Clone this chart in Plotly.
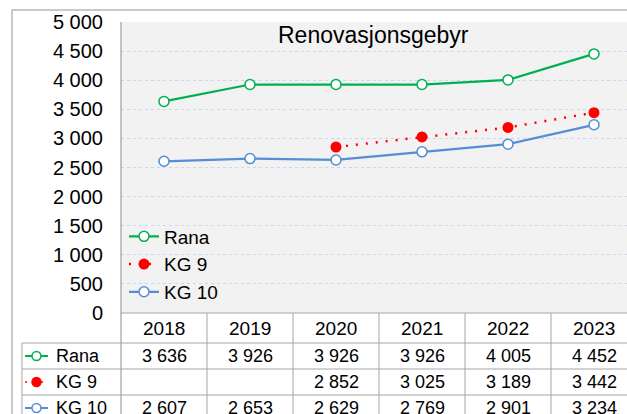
import plotly.graph_objects as go

years = ["2018", "2019", "2020", "2021", "2022", "2023"]
rana = [3636, 3926, 3926, 3926, 4005, 4452]
kg9 = [None, None, 2852, 3025, 3189, 3442]
kg10 = [2607, 2653, 2629, 2769, 2901, 3234]
series_names = ["Rana", "KG 9", "KG 10"]
y_ticks = [0, 500, 1000, 1500, 2000, 2500, 3000, 3500, 4000, 4500, 5000]
title_text = "Renovasjonsgebyr"

W, H = 627, 414
FONT = "Liberation Sans, Arial, sans-serif"
GREEN = "#00b050"
RED = "#ff0000"
BLUE = "#558ed5"
GRID = "#c9d7ee"
TBL = "#a6a6a6"

def px(x):
    return x / W

def py(y):
    return 1 - y / H

plot_left, plot_top, plot_bottom = 121, 22, 313
cat_w = 86
x_end = -0.5 + (W - plot_left) / cat_w

def fmt(v):
    return f"{v:,}".replace(",", " ")

fig = go.Figure()
styles = [
    dict(line=dict(color=GREEN, width=2.25), marker=dict(symbol="circle", size=10, color="white", line=dict(color=GREEN, width=1.5))),
    dict(line=dict(color=RED, width=2.5, dash="2px,8px"), marker=dict(symbol="circle", size=11, color=RED, line=dict(color=RED, width=0))),
    dict(line=dict(color=BLUE, width=2.25), marker=dict(symbol="circle", size=10, color="white", line=dict(color=BLUE, width=1.5))),
]
for name, vals, st in zip(series_names, [rana, kg9, kg10], styles):
    fig.add_trace(go.Scatter(x=list(range(len(years))), y=vals, name=name, mode="lines+markers",
                             legendgroup=name, connectgaps=False, **st))

shapes = []
annotations = []
# outer border
shapes.append(dict(type="rect", xref="paper", yref="paper", x0=px(12), x1=px(W + 10), y0=py(H + 10), y1=py(10),
                   line=dict(color="#b8b8b8", width=1.5), layer="below"))
# y axis line extended through table
shapes.append(dict(type="line", xref="paper", yref="paper", x0=px(plot_left), x1=px(plot_left), y0=py(plot_top), y1=py(H),
                   line=dict(color="#8c8c8c", width=1)))
# table horizontal lines
shapes.append(dict(type="line", xref="paper", yref="paper", x0=px(plot_left), x1=1, y0=py(313), y1=py(313),
                   line=dict(color=TBL, width=1)))
for yy in [343, 369, 395]:
    shapes.append(dict(type="line", xref="paper", yref="paper", x0=px(22), x1=1, y0=py(yy), y1=py(yy),
                       line=dict(color=TBL, width=1)))
shapes.append(dict(type="line", xref="paper", yref="paper", x0=px(22), x1=px(22), y0=py(343), y1=py(H),
                   line=dict(color=TBL, width=1)))
for i in range(1, len(years)):
    shapes.append(dict(type="line", xref="x", yref="paper", x0=i - 0.5, x1=i - 0.5, y0=py(313), y1=py(H),
                       line=dict(color=TBL, width=1)))

# header row
for i, yr in enumerate(years):
    annotations.append(dict(x=i, xref="x", y=py(328), yref="paper", text=yr, showarrow=False,
                            xanchor="center", yanchor="middle", font=dict(size=19, color="black", family=FONT)))
row_ys = [356, 382, 408]
for (name, vals, st, ry) in zip(series_names, [rana, kg9, kg10], styles, row_ys):
    for i, v in enumerate(vals):
        if v is not None:
            annotations.append(dict(x=i, xref="x", y=py(ry), yref="paper", text=fmt(v), showarrow=False,
                                    xanchor="center", yanchor="middle", font=dict(size=18, color="black", family=FONT)))
    annotations.append(dict(x=px(54), xref="paper", y=py(ry), yref="paper", text=name, showarrow=False,
                            xanchor="left", yanchor="middle", font=dict(size=18, color="black", family=FONT)))
    lc = st["line"]["color"]
    dash = st["line"].get("dash", "solid")
    shapes.append(dict(type="line", xref="paper", yref="paper", x0=px(25), x1=px(48), y0=py(ry), y1=py(ry),
                       line=dict(color=lc, width=2 if dash == "solid" else 1.5, dash="solid" if dash == "solid" else "2px,6px")))
    mc = st["marker"]["color"]
    shapes.append(dict(type="circle", xref="paper", yref="paper", x0=px(32), x1=px(41), y0=py(ry + 4.5), y1=py(ry - 4.5),
                       fillcolor=mc, line=dict(color=lc, width=1.5)))

annotations.append(dict(x=px(373), y=py(35), xref="paper", yref="paper", text=title_text, showarrow=False,
                        xanchor="center", yanchor="middle", font=dict(size=23, color="black", family=FONT)))

fig.update_layout(
    template="none",
    width=W, height=H,
    autosize=False,
    margin=dict(l=0, r=0, t=0, b=0, pad=0, autoexpand=False),
    paper_bgcolor="white",
    plot_bgcolor="#f2f2f2",
    separators=", ",
    font=dict(family=FONT, color="black"),
    xaxis=dict(domain=[px(plot_left), 1], range=[-0.5, x_end], showgrid=False, zeroline=False,
               showticklabels=False, ticks="", showline=False, fixedrange=True, automargin=False),
    yaxis=dict(domain=[py(plot_bottom), py(plot_top)], range=[0, 5000], tickvals=y_ticks,
               tickformat=",d", showgrid=True, gridcolor=GRID, griddash="dot", gridwidth=1,
               zeroline=False, showline=False, ticks="", ticklabelstandoff=17, automargin=False,
               fixedrange=True, tickfont=dict(size=20, color="black", family=FONT)),
    showlegend=True,
    legend=dict(x=px(124), y=py(217.5), xanchor="left", yanchor="top", bgcolor="rgba(0,0,0,0)",
                font=dict(size=19, color="black", family=FONT), itemwidth=30, tracegroupgap=2.5,
                traceorder="normal"),
    shapes=shapes,
    annotations=annotations,
)
fig.write_html("out.html", config={"displayModeBar": False},
               post_script="document.body.style.margin='0px';document.body.style.overflow='hidden';")
